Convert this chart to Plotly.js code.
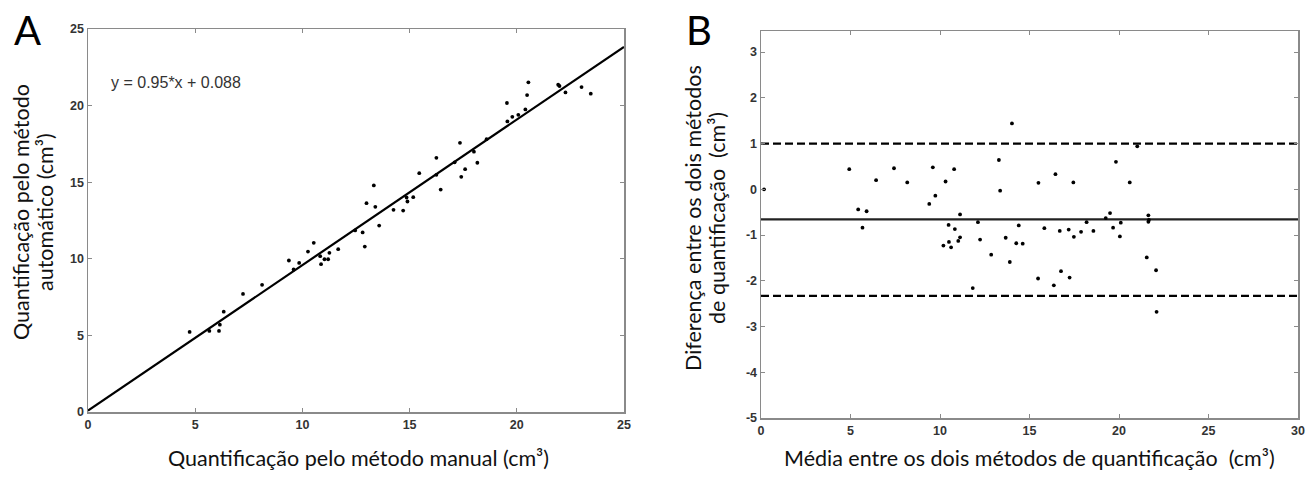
<!DOCTYPE html>
<html>
<head>
<meta charset="utf-8">
<script src="https://cdn.plot.ly/plotly-3.0.1.min.js"></script>
<style>html,body{margin:0;padding:0;background:#fff;}#chart{width:1306px;height:479px;}</style>
</head>
<body>
<div id="chart"></div>
<script>
// Panel A: manual vs automatic quantification (cm³)
const manualX = [4.74, 5.66, 6.11, 6.15, 6.33, 7.23, 8.12, 9.37, 9.59, 9.85, 10.26, 10.53, 10.83, 10.87, 11.03, 11.20, 11.26, 11.67,
  12.46, 12.81, 12.91, 12.99, 13.33, 13.40, 13.58, 14.25, 14.70, 14.86, 14.90, 15.17, 15.45, 16.25, 16.25, 16.45,
  17.10, 17.35, 17.41, 17.59, 18.00, 18.16, 18.59, 19.54, 19.56, 19.79, 20.07, 20.40, 20.48, 20.54, 21.93, 21.99, 22.27, 23.02, 23.45];
const autoY = [5.23, 5.29, 5.29, 5.70, 6.55, 7.71, 8.30, 9.89, 9.30, 9.73, 10.47, 11.04, 10.17, 9.65, 9.97, 9.97, 10.39, 10.63,
  11.85, 11.72, 10.80, 13.63, 14.79, 13.39, 12.17, 13.20, 13.15, 14.00, 13.74, 14.02, 15.59, 16.59, 15.48, 14.52,
  16.30, 17.57, 15.35, 15.85, 16.99, 16.27, 17.81, 20.17, 18.97, 19.27, 19.40, 19.75, 20.69, 21.52, 21.36, 21.28, 20.86, 21.21, 20.78];
const regSlope = 0.95;
const regIntercept = 0.088;
const regXRange = [0, 25];

// Panel B: Bland-Altman (mean vs difference, cm³)
const meanX = [0.17, 4.93, 5.43, 5.67, 5.90, 6.43, 7.43, 8.17, 9.40, 9.60, 9.74, 10.19, 10.31, 10.48, 10.50, 10.62, 10.79, 10.83,
  11.02, 11.12, 11.12, 11.83, 12.12, 12.24, 12.86, 13.29, 13.36, 13.67, 13.90, 14.02, 14.26, 14.40, 14.62, 15.48, 15.50,
  15.83, 16.36, 16.45, 16.69, 16.76, 17.19, 17.24, 17.45, 17.48, 17.88, 18.19, 18.57, 19.26, 19.50, 19.67, 19.83, 20.05,
  20.10, 20.60, 21.02, 21.55, 21.64, 21.64, 21.67, 22.07, 22.10];
const diffY = [0.00, 0.44, -0.44, -0.84, -0.48, 0.20, 0.46, 0.15, -0.32, 0.48, -0.14, -1.23, 0.17, -0.78, -1.15, -1.27, 0.44, -0.87,
  -1.13, -1.05, -0.55, -2.16, -0.72, -1.10, -1.43, 0.64, -0.03, -1.06, -1.59, 1.44, -1.18, -0.79, -1.19, -1.95, 0.14,
  -0.85, -2.10, 0.33, -0.91, -1.79, -0.88, -1.93, 0.15, -1.04, -0.93, -0.72, -0.91, -0.63, -0.52, -0.84, 0.60, -1.03,
  -0.73, 0.15, 0.94, -1.49, -0.57, -0.71, -0.67, -1.77, -2.68];
const meanDiff = -0.66;
const upperLoA = 1.0;
const lowerLoA = -2.33;
const baXRange = [0, 30];

// Tick labels
const ticksA = [0, 5, 10, 15, 20, 25];
const ticksBx = [0, 5, 10, 15, 20, 25, 30];
const ticksBy = [-5, -4, -3, -2, -1, 0, 1, 2, 3];

const regY = regXRange.map(x => regSlope * x + regIntercept);

const W = 1306, H = 479;
const titleFont = {family: 'Lato, "Noto Sans", sans-serif', size: 21.5, color: '#111'};
const tickFont = {family: '"Liberation Sans", Arial, sans-serif', size: 12.5, color: '#333', weight: 'bold'};

const traces = [
  {x: regXRange, y: regY, mode: 'lines', line: {color: '#000', width: 2.2}, xaxis: 'x', yaxis: 'y', hoverinfo: 'skip'},
  {x: manualX, y: autoY, mode: 'markers', marker: {color: '#000', size: 3.8}, xaxis: 'x', yaxis: 'y'},
  {x: baXRange, y: [upperLoA, upperLoA], mode: 'lines', line: {color: '#000', width: 2.2, dash: '8px,4px'}, xaxis: 'x2', yaxis: 'y2'},
  {x: baXRange, y: [lowerLoA, lowerLoA], mode: 'lines', line: {color: '#000', width: 2.2, dash: '8px,4px'}, xaxis: 'x2', yaxis: 'y2'},
  {x: baXRange, y: [meanDiff, meanDiff], mode: 'lines', line: {color: '#222', width: 2.2}, xaxis: 'x2', yaxis: 'y2'},
  {x: meanX, y: diffY, mode: 'markers', marker: {color: '#000', size: 3.8}, xaxis: 'x2', yaxis: 'y2'}
];

const axisCommon = {
  showline: true, linecolor: '#8a8a8a', linewidth: 1.5, mirror: 'ticks',
  ticks: 'inside', ticklen: 4, tickcolor: '#8a8a8a', tickwidth: 1,
  showgrid: false, zeroline: false, tickfont: tickFont, fixedrange: true
};

function rotLine(text, xpx, ypx) {
  return {text: text, xref: 'paper', yref: 'paper', x: xpx/W, y: 1 - ypx/H, xanchor: 'center', yanchor: 'middle',
          textangle: -90, showarrow: false, font: titleFont};
}

const layout = {
  width: W, height: H,
  margin: {l: 0, r: 0, t: 0, b: 0},
  paper_bgcolor: '#fff', plot_bgcolor: '#fff',
  showlegend: false,
  xaxis: Object.assign({}, axisCommon, {domain: [88/W, 624/W], range: [0, 25], tickvals: ticksA, ticktext: ticksA.map(String), anchor: 'y'}),
  yaxis: Object.assign({}, axisCommon, {domain: [(H-412)/H, (H-29)/H], range: [0, 25], tickvals: ticksA, ticktext: ticksA.map(String), anchor: 'x'}),
  xaxis2: Object.assign({}, axisCommon, {domain: [761/W, 1298/W], range: [0, 30], tickvals: ticksBx, ticktext: ticksBx.map(String), anchor: 'y2'}),
  yaxis2: Object.assign({}, axisCommon, {domain: [(H-418)/H, (H-31)/H], range: [-5, 3.46], tickvals: ticksBy, ticktext: ticksBy.map(String), anchor: 'x2'}),
  annotations: [
    {text: 'A', xref: 'paper', yref: 'paper', x: 27/W, y: 1 - 30/H, xanchor: 'center', yanchor: 'middle', showarrow: false,
     font: {family: 'Lato, "Noto Sans", sans-serif', size: 40, color: '#000'}},
    {text: 'B', xref: 'paper', yref: 'paper', x: 699/W, y: 1 - 30/H, xanchor: 'center', yanchor: 'middle', showarrow: false,
     font: {family: 'Lato, "Noto Sans", sans-serif', size: 40, color: '#000'}},
    {text: 'y = 0.95*x + 0.088', xref: 'x', yref: 'y', x: 1.0, y: 21.5, xanchor: 'left', yanchor: 'middle', showarrow: false,
     font: {family: '"Liberation Sans", Arial, sans-serif', size: 16, color: '#333'}},
    {text: 'Quantificação pelo método manual (cm³)', xref: 'paper', yref: 'paper', x: 358/W, y: 1 - 458/H, xanchor: 'center', yanchor: 'middle', showarrow: false, font: titleFont},
    rotLine('Quantificação pelo método', 21, 212),
    rotLine('automático (cm³)', 45, 212),
    {text: 'Média entre os dois métodos de quantificação  (cm³)', xref: 'paper', yref: 'paper', x: 1029/W, y: 1 - 458/H, xanchor: 'center', yanchor: 'middle', showarrow: false, font: titleFont},
    rotLine('Diferença entre os dois métodos', 693, 218),
    rotLine('de quantificação  (cm³)', 717, 218)
  ]
};

Plotly.newPlot('chart', traces, layout, {displayModeBar: false, staticPlot: true});
</script>
</body>
</html>
